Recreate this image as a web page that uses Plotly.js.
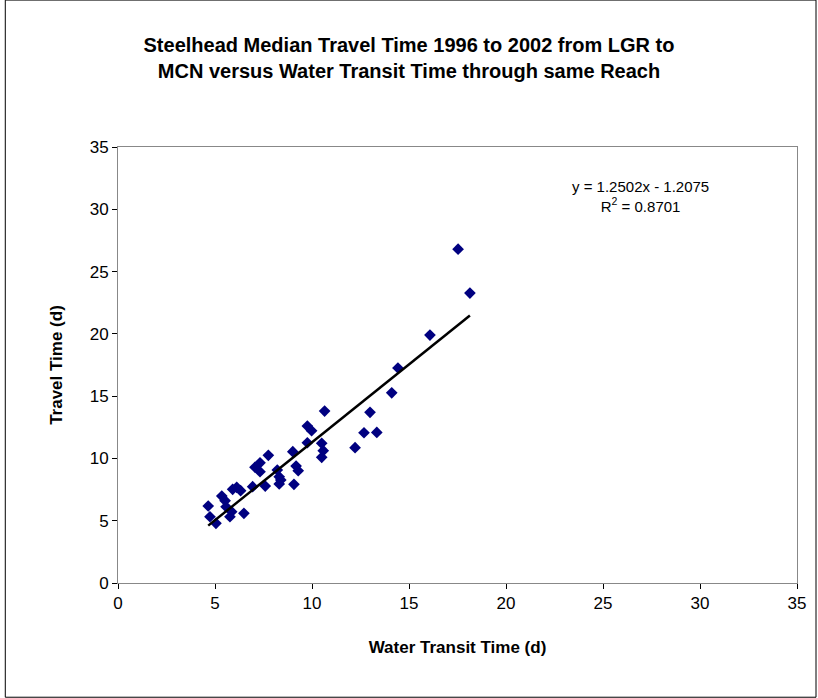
<!DOCTYPE html>
<html><head><meta charset="utf-8">
<script src="https://cdn.plot.ly/plotly-3.0.1.min.js"></script>
<style>body{margin:0}#myDiv{width:818px;height:698px}</style>
</head><body><div id="myDiv"></div>
<script>
var waterTime = [4.65, 4.74, 5.05, 5.35, 5.52, 5.57, 5.77, 5.86, 5.91, 6.12, 6.32, 6.49, 6.94, 7.06,
  7.32, 7.32, 7.59, 7.75, 8.21, 8.31, 8.31, 8.39, 9.01, 9.07, 9.18, 9.29, 9.76, 9.98, 9.76,
  10.5, 10.58, 10.5, 10.65, 12.22, 12.68, 12.99, 13.34, 14.11, 14.43, 16.08, 17.53, 18.14];
var travelTime = [6.18, 5.32, 4.79, 6.98, 6.61, 6.12, 5.32, 5.72, 7.52, 7.68, 7.41, 5.59, 7.73, 9.29,
  9.65, 8.93, 7.78, 10.25, 9.07, 8.53, 7.95, 8.27, 10.54, 7.92, 9.39, 9.01, 12.6, 12.22, 11.26,
  11.21, 10.62, 10.09, 13.8, 10.86, 12.06, 13.7, 12.09, 15.27, 17.26, 19.9, 26.8, 23.27];
var slope = 1.2502, intercept = -1.2075;
var fitX = [4.65, 18.14];
var fitY = fitX.map(function (x) { return slope * x + intercept; });

var font = 'Arial, Liberation Sans, sans-serif';

var pts = {
  x: waterTime, y: travelTime, mode: 'markers', type: 'scatter',
  marker: {symbol: 'diamond', color: '#000080', size: 9}
};
var fit = {
  x: fitX, y: fitY, mode: 'lines', type: 'scatter',
  line: {color: '#000000', width: 2.5}
};

var layout = {
  width: 818, height: 698,
  showlegend: false,
  margin: {l: 118, r: 21, t: 147, b: 115},
  paper_bgcolor: '#ffffff', plot_bgcolor: '#ffffff',
  font: {family: font, color: '#000000'},
  title: {
    text: 'Steelhead Median Travel Time 1996 to 2002 from LGR to<br>MCN versus Water Transit Time through same Reach',
    font: {family: font, size: 20, color: '#000000', weight: 'bold'},
    x: 0.5, xref: 'container', y: 0.925, yref: 'container', yanchor: 'middle'
  },
  xaxis: {
    range: [0, 35], dtick: 5, showgrid: false, zeroline: false,
    showline: true, mirror: true, linecolor: '#888888', linewidth: 1,
    ticks: 'outside', ticklen: 5, tickcolor: '#000000',
    tickfont: {size: 17},
    title: {text: 'Water Transit Time (d)', font: {size: 17, weight: 'bold'}, standoff: 28}
  },
  yaxis: {
    range: [0, 35], dtick: 5, showgrid: false, zeroline: false,
    showline: true, mirror: true, linecolor: '#888888', linewidth: 1,
    ticks: 'outside', ticklen: 5, tickcolor: '#000000',
    tickfont: {size: 17},
    title: {text: 'Travel Time (d)', font: {size: 17, weight: 'bold'}, standoff: 22}
  },
  annotations: [{
    xref: 'paper', yref: 'paper', x: 0.769, y: 0.887, xanchor: 'center', yanchor: 'middle',
    showarrow: false,
    text: 'y = 1.2502x - 1.2075<br>R<sup>2</sup> = 0.8701', align: 'center',
    font: {size: 15}
  }],
  shapes: [{
    type: 'rect', xref: 'paper', yref: 'paper',
    x0: -0.166, x1: 1.028, y0: -0.262, y1: 1.337,
    line: {color: '#000000', width: 1}
  }]
};

Plotly.newPlot('myDiv', [pts, fit], layout, {displayModeBar: false});
</script>
</body></html>
